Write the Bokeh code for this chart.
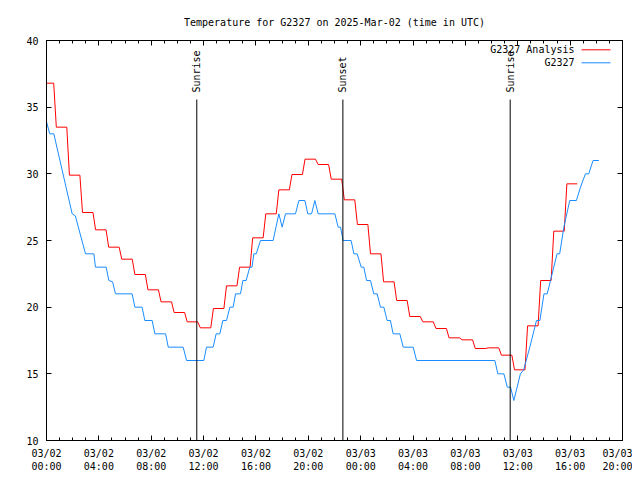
import math
from bokeh.plotting import figure
from bokeh.models import (FixedTicker, LinearAxis, Label, Arrow, Range1d)
from bokeh.embed import file_html
from bokeh.resources import INLINE

# ---------------- data ----------------
title_text = "Temperature for G2327 on 2025-Mar-02 (time in UTC)"
y_label = "degrees F"

# analysis: one value per hour (hours since 2025-03-02 00:00 UTC)
analysis_hours = list(range(41))
analysis_vals = [36.8, 33.5, 29.9, 27.1, 25.8, 24.5, 23.6, 22.45, 21.3, 20.4,
                 19.6, 18.9, 18.45, 19.9, 21.6, 23.0, 25.2, 27.0, 28.8, 29.95,
                 31.1, 30.7, 29.6, 28.05, 26.2, 24.0, 21.9, 20.5, 19.3, 18.9,
                 18.4, 17.7, 17.55, 16.9, 16.95, 16.4, 15.3, 18.6, 22.0, 25.7,
                 29.25]

# station observations (hours since 2025-03-02 00:00 UTC, deg F)
obs_hours = [0.0, 0.25, 0.56, 1.96, 2.2, 2.98, 3.62, 3.74, 4.56, 4.76, 5.05, 5.27,
             6.54, 6.75, 7.3, 7.51, 8.07, 8.28, 9.1, 9.3, 10.44, 10.7, 12.02,
             12.22, 12.73, 12.96, 13.24, 13.47, 13.75, 14.01, 14.26, 14.44, 14.82,
             15.0, 15.25, 15.53, 15.7, 15.84, 16.02, 16.35, 17.31, 17.75, 18.0,
             18.26, 19.02, 19.28, 19.74, 19.96, 20.25, 20.5, 20.75, 22.03, 22.28,
             22.46, 22.66, 23.27, 23.48, 23.73, 24.04, 24.24, 24.45, 24.75, 25.0,
             25.26, 25.51, 25.77, 26.02, 26.27, 26.48, 26.99, 27.25, 28.01, 28.27,
             34.25, 34.48, 34.94, 35.2, 35.45, 35.7, 36.2, 36.45, 36.92, 37.43,
             37.69, 38.0, 38.25, 38.5, 39.0, 39.2, 39.52, 39.97, 40.48, 40.79,
             41.17, 41.42, 41.75, 42.2]
obs_vals = [33.9, 33.0, 33.0, 27.0, 26.85, 24.0, 24.0, 23.0, 23.0, 22.0, 21.9, 21.0,
            21.0, 20.0, 20.0, 19.0, 19.0, 18.0, 18.0, 17.0, 17.0, 16.0, 16.0,
            17.0, 17.0, 18.0, 18.0, 19.0, 19.0, 20.0, 20.0, 21.0, 21.0,
            22.0, 22.0, 23.0, 23.0, 24.0, 24.0, 25.0, 25.0, 27.0, 26.0,
            27.0, 27.0, 28.0, 28.0, 27.0, 27.0, 28.0, 27.0, 27.0, 26.0,
            26.0, 25.0, 25.0, 24.0, 24.0, 23.0, 23.0, 22.0, 22.0, 21.0,
            21.0, 20.0, 20.0, 19.0, 19.0, 18.0, 18.0, 17.0, 17.0, 16.0,
            16.0, 15.0, 15.0, 14.0, 14.0, 13.0, 15.0, 15.3, 17.0, 19.0,
            19.0, 21.0, 21.0, 22.0, 24.0, 24.0, 26.0, 28.0, 28.0, 29.0,
            30.0, 30.0, 31.0, 31.0]

event_labels = ["Sunrise", "Sunset", "Sunrise"]
event_hours = [11.48, 22.64, 35.42]

x_ticks = [0, 4, 8, 12, 16, 20, 24, 28, 32, 36, 40, 44]
x_tick_dates = ["03/02"] * 6 + ["03/03"] * 6
x_tick_times = ["00:00", "04:00", "08:00", "12:00", "16:00", "20:00"] * 2
y_ticks = [10, 15, 20, 25, 30, 35, 40]

series_names = ["G2327 Analysis", "G2327"]
series_colors = ["#ff0000", "#1a8cff"]

# ---------------- styles ----------------
FONT = "DejaVu Sans Mono"
FS = "10px"
X0, X1 = 0, 44
Y0, Y1 = 10, 40
EVENT_LINE_TOP = 35.57

# step-shaped analysis line (value held through the hour, quick ramp to next)
ax_x, ax_y = [], []
for h, v in zip(analysis_hours, analysis_vals):
    ax_x += [max(h - 0.25, 0), h + 0.55]
    ax_y += [v, v]

p = figure(frame_width=576, frame_height=400, output_backend="svg",
           toolbar_location=None, x_range=Range1d(X0, X1), y_range=Range1d(Y0, Y1),
           min_border_left=46, min_border_top=40, min_border_right=10,
           min_border_bottom=32, background_fill_color="white",
           border_fill_color="white")
p.grid.visible = False
p.outline_line_color = "black"
p.outline_line_width = 1

p.title.text = title_text
p.title.align = "center"
p.title.text_font = FONT
p.title.text_font_size = FS
p.title.text_font_style = "normal"
p.title.text_color = "black"
p.title.standoff = 25

minor = list(range(X0, X1 + 1))

def style_x(ax, labels=True):
    ax.ticker = FixedTicker(ticks=x_ticks, minor_ticks=minor)
    ax.major_tick_in = 5
    ax.major_tick_out = 0
    ax.minor_tick_in = 3
    ax.minor_tick_out = 0
    ax.axis_line_color = "black"
    ax.major_tick_line_color = "black"
    ax.minor_tick_line_color = "black"
    ax.major_label_text_font = FONT
    if labels:
        ax.major_label_text_font_size = FS
        ax.major_label_text_color = "black"
        ax.major_label_standoff = 7
        ax.major_label_overrides = {t: f"{d}\n{tm}" for t, d, tm in
                                    zip(x_ticks, x_tick_dates, x_tick_times)}
    else:
        ax.major_label_text_font_size = "0px"
        ax.major_label_text_color = None
        ax.major_label_standoff = 0

def style_y(ax, labels=True):
    ax.ticker = FixedTicker(ticks=y_ticks, minor_ticks=[])
    ax.major_tick_in = 5
    ax.major_tick_out = 0
    ax.minor_tick_in = 0
    ax.minor_tick_out = 0
    ax.axis_line_color = "black"
    ax.major_tick_line_color = "black"
    ax.major_label_text_font = FONT
    if labels:
        ax.major_label_text_font_size = FS
        ax.major_label_text_color = "black"
        ax.major_label_standoff = 8
    else:
        ax.major_label_text_font_size = "0px"
        ax.major_label_text_color = None
        ax.major_label_standoff = 0

style_x(p.xaxis[0])
style_y(p.yaxis[0])
top_ax = LinearAxis()
style_x(top_ax, labels=False)
p.add_layout(top_ax, "above")
right_ax = LinearAxis()
style_y(right_ax, labels=False)
p.add_layout(right_ax, "right")

# series
p.line(ax_x, ax_y, line_color=series_colors[0], line_width=1)
p.line(obs_hours, obs_vals, line_color=series_colors[1], line_width=1)

# sunrise / sunset markers
p.segment(x0=event_hours, y0=[Y0] * len(event_hours), x1=event_hours,
          y1=[EVENT_LINE_TOP] * len(event_hours), line_color="black", line_width=1)
for h, lab in zip(event_hours, event_labels):
    p.add_layout(Label(x=h, y=348, x_units="data", y_units="screen", text=lab,
                       angle=math.pi / 2, text_align="left", text_baseline="middle",
                       text_font=FONT, text_font_size=FS, text_color="black"))

# y axis label
p.add_layout(Label(x=-36, y=197, x_units="screen", y_units="screen", text=y_label,
                   angle=math.pi / 2, text_align="center", text_baseline="middle",
                   text_font=FONT, text_font_size=FS, text_color="black"))

# legend (text then sample line, right aligned)
for i, (name, col) in enumerate(zip(series_names, series_colors)):
    ly = 390.7 - 13 * i
    p.add_layout(Label(x=528, y=ly, x_units="screen", y_units="screen", text=name,
                       text_align="right", text_baseline="middle",
                       text_font=FONT, text_font_size=FS, text_color="black"))
    p.add_layout(Arrow(x_start=535, y_start=ly, x_end=564, y_end=ly,
                       start_units="screen", end_units="screen", end=None,
                       line_color=col, line_width=1))

open("out.html", "w").write(file_html(p, INLINE))
